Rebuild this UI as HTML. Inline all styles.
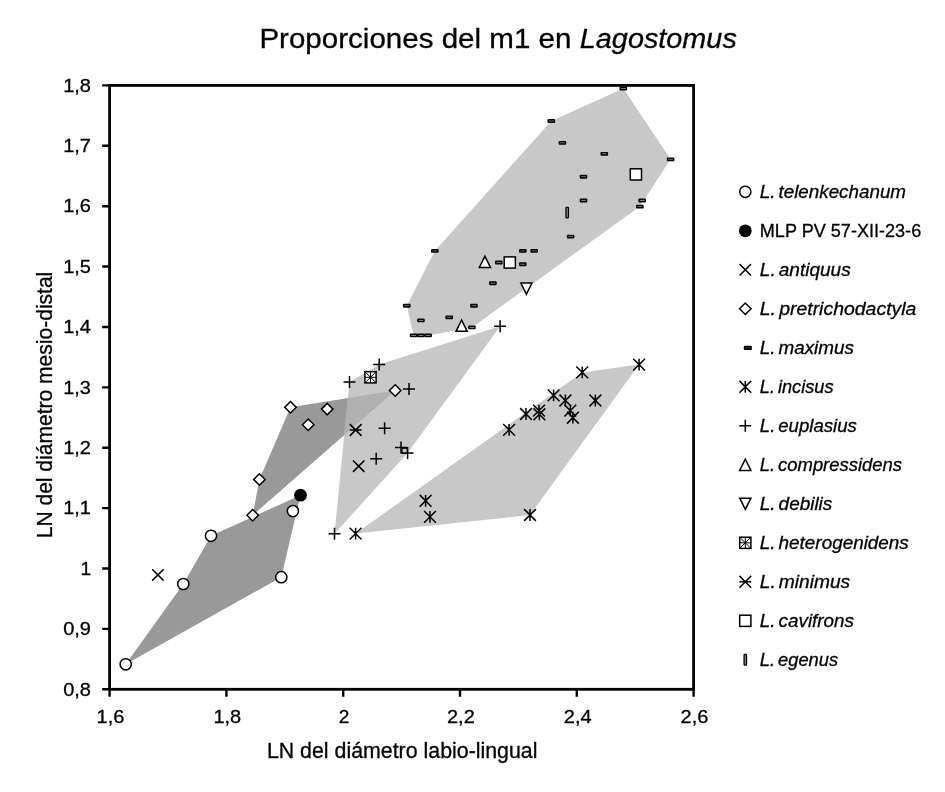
<!DOCTYPE html>
<html lang="es"><head><meta charset="utf-8"><title>Proporciones del m1 en Lagostomus</title>
<style>html,body{margin:0;padding:0;background:#fff}svg{display:block;will-change:transform;filter:grayscale(1)}text{font-family:"Liberation Sans",sans-serif;fill:#000;stroke:#000;stroke-width:0.3px}.lg{word-spacing:-2.2px}.i{font-style:italic}</style></head><body>
<svg width="945" height="792" viewBox="0 0 945 792">
<rect width="945" height="792" fill="#fff"/>
<polygon points="125.7,664.3 183.3,584.0 211.0,535.8 300.5,495.2 281.3,577.2" fill="#999999"/>
<polygon points="290.5,407.2 395.2,390.5 252.7,515.2 259.4,479.5" fill="#999999"/>
<polygon points="413.6,335.4 428.1,335.4 471.9,327.4 639.9,206.6 670.6,159.3 623.3,88.5 551.3,121.0 434.8,250.9 406.8,305.7" fill="#c8c8c8"/>
<polygon points="355.6,533.6 582.2,372.4 639.1,364.6 530.0,515.0" fill="#c8c8c8"/>
<polygon points="334.5,533.7 349.5,382.1 379.2,364.6 500.1,326.3 407.6,453.0" fill="#c8c8c8"/>
<polygon points="347.9,398.0 395.2,390.5 344.3,435.1" fill="#b0b0b0"/>
<rect x="109.6" y="85.4" width="584.0" height="603.9" fill="none" stroke="#000" stroke-width="2.8"/>
<path d="M102.19999999999999 85.40H109.6M102.19999999999999 145.79H109.6M102.19999999999999 206.18H109.6M102.19999999999999 266.57H109.6M102.19999999999999 326.96H109.6M102.19999999999999 387.35H109.6M102.19999999999999 447.74H109.6M102.19999999999999 508.13H109.6M102.19999999999999 568.52H109.6M102.19999999999999 628.91H109.6M102.19999999999999 689.30H109.6M109.60 689.3V696.6999999999999M226.40 689.3V696.6999999999999M343.20 689.3V696.6999999999999M460.00 689.3V696.6999999999999M576.80 689.3V696.6999999999999M693.60 689.3V696.6999999999999" stroke="#000" stroke-width="2.4" fill="none"/>
<text x="63.20" y="91.70" font-size="18.2" textLength="27.8" lengthAdjust="spacingAndGlyphs">1,8</text>
<text x="63.20" y="152.09" font-size="18.2" textLength="27.8" lengthAdjust="spacingAndGlyphs">1,7</text>
<text x="63.20" y="212.48" font-size="18.2" textLength="27.8" lengthAdjust="spacingAndGlyphs">1,6</text>
<text x="63.20" y="272.87" font-size="18.2" textLength="27.8" lengthAdjust="spacingAndGlyphs">1,5</text>
<text x="63.20" y="333.26" font-size="18.2" textLength="27.8" lengthAdjust="spacingAndGlyphs">1,4</text>
<text x="63.20" y="393.65" font-size="18.2" textLength="27.8" lengthAdjust="spacingAndGlyphs">1,3</text>
<text x="63.20" y="454.04" font-size="18.2" textLength="27.8" lengthAdjust="spacingAndGlyphs">1,2</text>
<text x="63.20" y="514.43" font-size="18.2" textLength="27.8" lengthAdjust="spacingAndGlyphs">1,1</text>
<text x="80.40" y="574.82" font-size="18.2" textLength="10.6" lengthAdjust="spacingAndGlyphs">1</text>
<text x="63.20" y="635.21" font-size="18.2" textLength="27.8" lengthAdjust="spacingAndGlyphs">0,9</text>
<text x="63.20" y="695.60" font-size="18.2" textLength="27.8" lengthAdjust="spacingAndGlyphs">0,8</text>
<text x="96.60" y="722.7" font-size="18.2" textLength="27.8" lengthAdjust="spacingAndGlyphs">1,6</text>
<text x="213.40" y="722.7" font-size="18.2" textLength="27.8" lengthAdjust="spacingAndGlyphs">1,8</text>
<text x="338.80" y="722.7" font-size="18.2" textLength="10.6" lengthAdjust="spacingAndGlyphs">2</text>
<text x="447.00" y="722.7" font-size="18.2" textLength="27.8" lengthAdjust="spacingAndGlyphs">2,2</text>
<text x="563.80" y="722.7" font-size="18.2" textLength="27.8" lengthAdjust="spacingAndGlyphs">2,4</text>
<text x="680.60" y="722.7" font-size="18.2" textLength="27.8" lengthAdjust="spacingAndGlyphs">2,6</text>
<text x="259.4" y="47.6" font-size="28.4" textLength="312" lengthAdjust="spacingAndGlyphs">Proporciones del m1 en</text>
<text class="i" x="579.8" y="47.6" font-size="28.4" textLength="157" lengthAdjust="spacingAndGlyphs">Lagostomus</text>
<text x="266.9" y="757.6" font-size="21.6" textLength="270.6" lengthAdjust="spacingAndGlyphs">LN del diámetro labio-lingual</text>
<text transform="translate(52.0 538.3) rotate(-90)" font-size="21.6" textLength="266.6" lengthAdjust="spacingAndGlyphs">LN del diámetro mesio-distal</text>
<rect x="620.1999999999999" y="87.3" width="6.2" height="2.4" rx="0.3" fill="#777" stroke="#000" stroke-width="1.45"/>
<rect x="548.1999999999999" y="119.8" width="6.2" height="2.4" rx="0.3" fill="#777" stroke="#000" stroke-width="1.45"/>
<rect x="559.3" y="141.60000000000002" width="6.2" height="2.4" rx="0.3" fill="#777" stroke="#000" stroke-width="1.45"/>
<rect x="601.1999999999999" y="152.60000000000002" width="6.2" height="2.4" rx="0.3" fill="#777" stroke="#000" stroke-width="1.45"/>
<rect x="667.5" y="158.10000000000002" width="6.2" height="2.4" rx="0.3" fill="#777" stroke="#000" stroke-width="1.45"/>
<rect x="580.4" y="175.5" width="6.2" height="2.4" rx="0.3" fill="#777" stroke="#000" stroke-width="1.45"/>
<rect x="580.4" y="199.3" width="6.2" height="2.4" rx="0.3" fill="#777" stroke="#000" stroke-width="1.45"/>
<rect x="639.1" y="199.3" width="6.2" height="2.4" rx="0.3" fill="#777" stroke="#000" stroke-width="1.45"/>
<rect x="636.8" y="205.4" width="6.2" height="2.4" rx="0.3" fill="#777" stroke="#000" stroke-width="1.45"/>
<rect x="567.5" y="235.4" width="6.2" height="2.4" rx="0.3" fill="#777" stroke="#000" stroke-width="1.45"/>
<rect x="431.7" y="249.70000000000002" width="6.2" height="2.4" rx="0.3" fill="#777" stroke="#000" stroke-width="1.45"/>
<rect x="519.6999999999999" y="249.70000000000002" width="6.2" height="2.4" rx="0.3" fill="#777" stroke="#000" stroke-width="1.45"/>
<rect x="531.1" y="249.70000000000002" width="6.2" height="2.4" rx="0.3" fill="#777" stroke="#000" stroke-width="1.45"/>
<rect x="495.7" y="261.3" width="6.2" height="2.4" rx="0.3" fill="#777" stroke="#000" stroke-width="1.45"/>
<rect x="519.6999999999999" y="263.0" width="6.2" height="2.4" rx="0.3" fill="#777" stroke="#000" stroke-width="1.45"/>
<rect x="489.79999999999995" y="282.0" width="6.2" height="2.4" rx="0.3" fill="#777" stroke="#000" stroke-width="1.45"/>
<rect x="403.7" y="304.5" width="6.2" height="2.4" rx="0.3" fill="#777" stroke="#000" stroke-width="1.45"/>
<rect x="470.9" y="304.5" width="6.2" height="2.4" rx="0.3" fill="#777" stroke="#000" stroke-width="1.45"/>
<rect x="446.09999999999997" y="316.1" width="6.2" height="2.4" rx="0.3" fill="#777" stroke="#000" stroke-width="1.45"/>
<rect x="417.79999999999995" y="319.2" width="6.2" height="2.4" rx="0.3" fill="#777" stroke="#000" stroke-width="1.45"/>
<rect x="468.79999999999995" y="326.2" width="6.2" height="2.4" rx="0.3" fill="#777" stroke="#000" stroke-width="1.45"/>
<rect x="410.5" y="334.2" width="6.2" height="2.4" rx="0.3" fill="#777" stroke="#000" stroke-width="1.45"/>
<rect x="417.79999999999995" y="334.2" width="6.2" height="2.4" rx="0.3" fill="#777" stroke="#000" stroke-width="1.45"/>
<rect x="425.0" y="334.2" width="6.2" height="2.4" rx="0.3" fill="#777" stroke="#000" stroke-width="1.45"/>
<rect x="566.0" y="207.29999999999998" width="2.4" height="10.6" rx="0.6" fill="#999" stroke="#000" stroke-width="1.3"/>
<path d="M633.2 358.70000000000005L645.0 370.5M633.2 370.5L645.0 358.70000000000005M639.1 358.70000000000005V370.5" fill="none" stroke="#000" stroke-width="1.5"/>
<path d="M576.3000000000001 366.5L588.1 378.29999999999995M576.3000000000001 378.29999999999995L588.1 366.5M582.2 366.5V378.29999999999995" fill="none" stroke="#000" stroke-width="1.5"/>
<path d="M547.7 389.5L559.5 401.29999999999995M547.7 401.29999999999995L559.5 389.5M553.6 389.5V401.29999999999995" fill="none" stroke="#000" stroke-width="1.5"/>
<path d="M559.5 394.6L571.3 406.4M559.5 406.4L571.3 394.6M565.4 394.6V406.4" fill="none" stroke="#000" stroke-width="1.5"/>
<path d="M589.5 394.6L601.3 406.4M589.5 406.4L601.3 394.6M595.4 394.6V406.4" fill="none" stroke="#000" stroke-width="1.5"/>
<path d="M564.4 404.70000000000005L576.1999999999999 416.5M564.4 416.5L576.1999999999999 404.70000000000005M570.3 404.70000000000005V416.5" fill="none" stroke="#000" stroke-width="1.5"/>
<path d="M533.1 404.70000000000005L544.9 416.5M533.1 416.5L544.9 404.70000000000005M539.0 404.70000000000005V416.5" fill="none" stroke="#000" stroke-width="1.5"/>
<path d="M520.1 408.1L531.9 419.9M520.1 419.9L531.9 408.1M526.0 408.1V419.9" fill="none" stroke="#000" stroke-width="1.5"/>
<path d="M533.5 408.40000000000003L545.3 420.2M533.5 420.2L545.3 408.40000000000003M539.4 408.40000000000003V420.2" fill="none" stroke="#000" stroke-width="1.5"/>
<path d="M567.0 411.8L578.8 423.59999999999997M567.0 423.59999999999997L578.8 411.8M572.9 411.8V423.59999999999997" fill="none" stroke="#000" stroke-width="1.5"/>
<path d="M503.20000000000005 424.0L515.0 435.79999999999995M503.20000000000005 435.79999999999995L515.0 424.0M509.1 424.0V435.79999999999995" fill="none" stroke="#000" stroke-width="1.5"/>
<path d="M419.70000000000005 494.90000000000003L431.5 506.7M419.70000000000005 506.7L431.5 494.90000000000003M425.6 494.90000000000003V506.7" fill="none" stroke="#000" stroke-width="1.5"/>
<path d="M424.1 511.0L435.9 522.8M424.1 522.8L435.9 511.0M430.0 511.0V522.8" fill="none" stroke="#000" stroke-width="1.5"/>
<path d="M524.1 509.1L535.9 520.9M524.1 520.9L535.9 509.1M530.0 509.1V520.9" fill="none" stroke="#000" stroke-width="1.5"/>
<path d="M349.70000000000005 527.7L361.5 539.5M349.70000000000005 539.5L361.5 527.7M355.6 527.7V539.5" fill="none" stroke="#000" stroke-width="1.5"/>
<path d="M494.1 326.3H506.1M500.1 320.3V332.3" fill="none" stroke="#000" stroke-width="1.5"/>
<path d="M373.2 364.6H385.2M379.2 358.6V370.6" fill="none" stroke="#000" stroke-width="1.5"/>
<path d="M343.5 382.1H355.5M349.5 376.1V388.1" fill="none" stroke="#000" stroke-width="1.5"/>
<path d="M403.0 389.1H415.0M409.0 383.1V395.1" fill="none" stroke="#000" stroke-width="1.5"/>
<path d="M378.6 428.2H390.6M384.6 422.2V434.2" fill="none" stroke="#000" stroke-width="1.5"/>
<path d="M395.0 447.6H407.0M401.0 441.6V453.6" fill="none" stroke="#000" stroke-width="1.5"/>
<path d="M401.6 453.0H413.6M407.6 447.0V459.0" fill="none" stroke="#000" stroke-width="1.5"/>
<path d="M370.2 458.7H382.2M376.2 452.7V464.7" fill="none" stroke="#000" stroke-width="1.5"/>
<path d="M328.5 533.7H340.5M334.5 527.7V539.7" fill="none" stroke="#000" stroke-width="1.5"/>
<rect x="402.1" y="448.4" width="5" height="5" fill="none" stroke="#000" stroke-width="1"/>
<path d="M353.0 460.5L364.4 471.9M353.0 471.9L364.4 460.5" fill="none" stroke="#000" stroke-width="1.5"/>
<path d="M152.20000000000002 569.1999999999999L163.6 580.6M152.20000000000002 580.6L163.6 569.1999999999999" fill="none" stroke="#000" stroke-width="1.5"/>
<path d="M349.8 424.1L361.59999999999997 435.9M349.8 435.9L361.59999999999997 424.1M349.8 430.0H361.59999999999997" fill="none" stroke="#000" stroke-width="1.5"/>
<rect x="364.9" y="371.7" width="11.2" height="11.2" fill="#fff" stroke="#000" stroke-width="1.5"/><path d="M364.9 371.7L376.1 382.90000000000003M364.9 382.90000000000003L376.1 371.7M364.9 377.3H376.1M370.5 371.7V382.90000000000003" fill="none" stroke="#000" stroke-width="1.0"/>
<path d="M389.45 390.5L395.2 384.75L400.95 390.5L395.2 396.25Z" fill="#fff" stroke="#000" stroke-width="1.5"/>
<path d="M284.75 407.2L290.5 401.45L296.25 407.2L290.5 412.95Z" fill="#fff" stroke="#000" stroke-width="1.5"/>
<path d="M321.45 409.1L327.2 403.35L332.95 409.1L327.2 414.85Z" fill="#fff" stroke="#000" stroke-width="1.5"/>
<path d="M302.45 424.8L308.2 419.05L313.95 424.8L308.2 430.55Z" fill="#fff" stroke="#000" stroke-width="1.5"/>
<path d="M253.64999999999998 479.5L259.4 473.75L265.15 479.5L259.4 485.25Z" fill="#fff" stroke="#000" stroke-width="1.5"/>
<path d="M246.95 515.2L252.7 509.45000000000005L258.45 515.2L252.7 520.95Z" fill="#fff" stroke="#000" stroke-width="1.5"/>
<circle cx="292.9" cy="511.1" r="5.6" fill="#fff" stroke="#000" stroke-width="1.5"/>
<circle cx="211.0" cy="535.8" r="5.6" fill="#fff" stroke="#000" stroke-width="1.5"/>
<circle cx="281.3" cy="577.2" r="5.6" fill="#fff" stroke="#000" stroke-width="1.5"/>
<circle cx="183.3" cy="584.0" r="5.6" fill="#fff" stroke="#000" stroke-width="1.5"/>
<circle cx="125.7" cy="664.3" r="5.6" fill="#fff" stroke="#000" stroke-width="1.5"/>
<circle cx="300.5" cy="495.2" r="6.4" fill="#000"/>
<path d="M479.29999999999995 267.5L484.9 256.29999999999995L490.5 267.5Z" fill="#fff" stroke="#000" stroke-width="1.5" stroke-linejoin="miter"/>
<path d="M456.0 331.3L461.6 320.09999999999997L467.20000000000005 331.3Z" fill="#fff" stroke="#000" stroke-width="1.5" stroke-linejoin="miter"/>
<path d="M520.8 283.0L526.4 294.20000000000005L532.0 283.0Z" fill="#fff" stroke="#000" stroke-width="1.5" stroke-linejoin="miter"/>
<rect x="630.3" y="168.8" width="11.2" height="11.2" fill="#fff" stroke="#000" stroke-width="1.5"/>
<rect x="504.2" y="256.9" width="11.2" height="11.2" fill="#fff" stroke="#000" stroke-width="1.5"/>
<circle cx="745.3" cy="191.8" r="5.6" fill="#fff" stroke="#000" stroke-width="1.5"/>
<text class="i lg" x="759.8" y="198.1" font-size="18.8" textLength="146.2" lengthAdjust="spacingAndGlyphs">L. telenkechanum</text>
<circle cx="745.3" cy="230.8" r="6.4" fill="#000"/>
<text x="759.8" y="237.1" font-size="18.8" textLength="161.4" lengthAdjust="spacingAndGlyphs">MLP PV 57-XII-23-6</text>
<path d="M739.5999999999999 264.1L751.0 275.5M739.5999999999999 275.5L751.0 264.1" fill="none" stroke="#000" stroke-width="1.5"/>
<text class="i lg" x="759.8" y="276.1" font-size="18.8" textLength="90.9" lengthAdjust="spacingAndGlyphs">L. antiquus</text>
<path d="M739.55 308.8L745.3 303.05L751.05 308.8L745.3 314.55Z" fill="#fff" stroke="#000" stroke-width="1.5"/>
<text class="i lg" x="759.8" y="315.1" font-size="18.8" textLength="156.6" lengthAdjust="spacingAndGlyphs">L. pretrichodactyla</text>
<rect x="744.5" y="346.40000000000003" width="6.6" height="2.8" rx="0.3" fill="#333" stroke="#000" stroke-width="1.45"/>
<text class="i lg" x="759.8" y="354.1" font-size="18.8" textLength="94.0" lengthAdjust="spacingAndGlyphs">L. maximus</text>
<path d="M739.4 380.90000000000003L751.1999999999999 392.7M739.4 392.7L751.1999999999999 380.90000000000003M745.3 380.90000000000003V392.7" fill="none" stroke="#000" stroke-width="1.5"/>
<text class="i lg" x="759.8" y="393.1" font-size="18.8" textLength="73.7" lengthAdjust="spacingAndGlyphs">L. incisus</text>
<path d="M739.3 425.8H751.3M745.3 419.8V431.8" fill="none" stroke="#000" stroke-width="1.5"/>
<text class="i lg" x="759.8" y="432.1" font-size="18.8" textLength="97.0" lengthAdjust="spacingAndGlyphs">L. euplasius</text>
<path d="M739.6999999999999 470.40000000000003L745.3 459.2L750.9 470.40000000000003Z" fill="#fff" stroke="#000" stroke-width="1.5" stroke-linejoin="miter"/>
<text class="i lg" x="759.8" y="471.1" font-size="18.8" textLength="142.1" lengthAdjust="spacingAndGlyphs">L. compressidens</text>
<path d="M739.6999999999999 498.2L745.3 509.40000000000003L750.9 498.2Z" fill="#fff" stroke="#000" stroke-width="1.5" stroke-linejoin="miter"/>
<text class="i lg" x="759.8" y="510.1" font-size="18.8" textLength="72.5" lengthAdjust="spacingAndGlyphs">L. debilis</text>
<rect x="739.6999999999999" y="537.1999999999999" width="11.2" height="11.2" fill="#fff" stroke="#000" stroke-width="1.5"/><path d="M739.6999999999999 537.1999999999999L750.9 548.4M739.6999999999999 548.4L750.9 537.1999999999999M739.6999999999999 542.8H750.9M745.3 537.1999999999999V548.4" fill="none" stroke="#000" stroke-width="1.0"/>
<text class="i lg" x="759.8" y="549.1" font-size="18.8" textLength="149.0" lengthAdjust="spacingAndGlyphs">L. heterogenidens</text>
<path d="M739.4 575.9L751.1999999999999 587.6999999999999M739.4 587.6999999999999L751.1999999999999 575.9M739.4 581.8H751.1999999999999" fill="none" stroke="#000" stroke-width="1.5"/>
<text class="i lg" x="759.8" y="588.1" font-size="18.8" textLength="90.4" lengthAdjust="spacingAndGlyphs">L. minimus</text>
<rect x="739.6999999999999" y="615.1999999999999" width="11.2" height="11.2" fill="#fff" stroke="#000" stroke-width="1.5"/>
<text class="i lg" x="759.8" y="627.1" font-size="18.8" textLength="94.2" lengthAdjust="spacingAndGlyphs">L. cavifrons</text>
<rect x="744.0999999999999" y="654.5" width="2.4" height="10.6" rx="0.6" fill="#999" stroke="#000" stroke-width="1.3"/>
<text class="i lg" x="759.8" y="666.1" font-size="18.8" textLength="78.3" lengthAdjust="spacingAndGlyphs">L. egenus</text>
</svg></body></html>
